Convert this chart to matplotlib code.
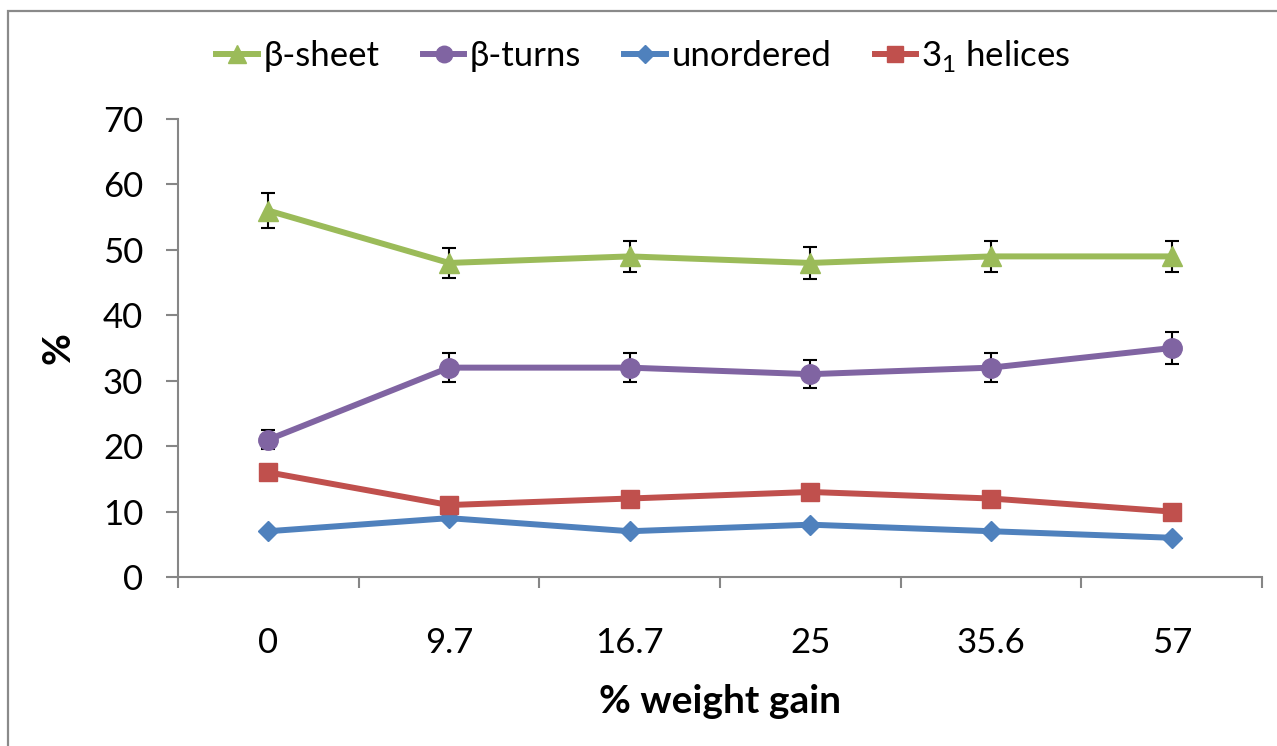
import matplotlib
matplotlib.use("Agg")
import matplotlib.pyplot as plt
from matplotlib.patches import Rectangle
from matplotlib.lines import Line2D
import numpy as np

plt.rcParams["font.family"] = ["Lato", "DejaVu Sans"]
plt.rcParams["mathtext.fontset"] = "custom"
plt.rcParams["mathtext.rm"] = "Lato"

# % weight gain categories
weight_gain = ["0", "9.7", "16.7", "25", "35.6", "57"]

# secondary structure content (%)
beta_sheet = [56, 48, 49, 48, 49, 49]
beta_sheet_err = [2.7, 2.3, 2.4, 2.4, 2.4, 2.4]
beta_turns = [21, 32, 32, 31, 32, 35]
beta_turns_err = [1.5, 2.2, 2.2, 2.1, 2.2, 2.5]
unordered = [7, 9, 7, 8, 7, 6]
helices_31 = [16, 11, 12, 13, 12, 10]

x = np.arange(len(weight_gain))

fig = plt.figure(figsize=(12.77, 7.46), dpi=100)
ax = fig.add_axes([0.1394, 0.2265, 0.8489, 0.614])

# outer chart frame
fig.patches.append(Rectangle((8 / 1277, -0.05), 1.2, 0.05 + 1 - 11 / 746,
                             transform=fig.transFigure, fill=False,
                             edgecolor="#8a8a8a", linewidth=1.6))

lw = 4.3
styles = [
    ("β-sheet", "#9BBB59", "^", 15),
    ("β-turns", "#8064A2", "o", 14),
    ("unordered", "#4F81BD", "D", 10.5),
    ("3$_1$ helices", "#C0504D", "s", 13),
]

ax.errorbar(x, beta_sheet, yerr=beta_sheet_err, color=styles[0][1],
            marker=styles[0][2], markersize=styles[0][3], linewidth=lw,
            ecolor="black", elinewidth=1.5, capsize=5, capthick=1.5, zorder=3)
ax.errorbar(x, beta_turns, yerr=beta_turns_err, color=styles[1][1],
            marker=styles[1][2], markersize=styles[1][3], linewidth=lw,
            ecolor="black", elinewidth=1.5, capsize=5, capthick=1.5, zorder=3)
ax.plot(x, unordered, color=styles[2][1], marker=styles[2][2],
        markersize=styles[2][3], linewidth=lw, zorder=3)
ax.plot(x, helices_31, color=styles[3][1], marker=styles[3][2],
        markersize=styles[3][3], linewidth=lw, zorder=3)

ax.set_xlim(-0.5, len(x) - 0.5)
ax.set_ylim(0, 70)
ax.set_yticks(range(0, 71, 10))

# category labels centered, ticks at category boundaries
ax.set_xticks(np.arange(-0.5, len(x), 1.0))
ax.set_xticklabels([])
ax.set_xticks(x, minor=True)
ax.set_xticklabels(weight_gain, minor=True)
ax.tick_params(axis="x", which="minor", length=0, pad=36, labelsize=25)
ax.tick_params(axis="x", which="major", length=8, width=1.5, color="#868686")
ax.tick_params(axis="y", length=9, width=1.5, color="#868686", pad=16,
               labelsize=25)

for side in ["top", "right"]:
    ax.spines[side].set_visible(False)
for side in ["left", "bottom"]:
    ax.spines[side].set_color("#868686")
    ax.spines[side].set_linewidth(1.5)

ax.set_xlabel("% weight gain", fontsize=28, fontweight="bold", labelpad=18)
ax.set_ylabel("%", fontsize=28, fontweight="bold", labelpad=20)

handles = [Line2D([], [], color=c, marker=m, markersize=ms * 0.85, linewidth=lw)
           for _, c, m, ms in styles]
labels = [s[0] for s in styles]
fig.legend(handles, labels, loc="center", bbox_to_anchor=(0.504, 0.925),
           ncol=4, frameon=False, fontsize=25, handlelength=1.2,
           handletextpad=0.15, columnspacing=1.25)

fig.savefig("out.png", dpi=100)
